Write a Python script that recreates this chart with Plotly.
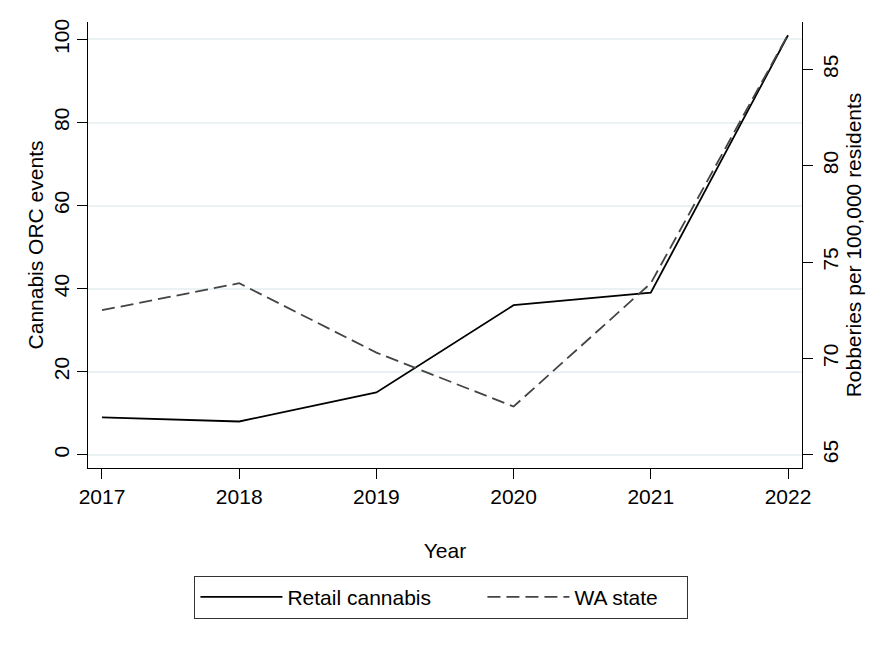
import plotly.graph_objects as go

years = [2017, 2018, 2019, 2020, 2021, 2022]
retail_cannabis = [9, 8, 15, 36, 39, 101]
wa_state = [72.5, 73.9, 70.3, 67.5, 73.9, 86.8]

left_ticks = [0, 20, 40, 60, 80, 100]
right_ticks = [65, 70, 75, 80, 85]

FONT = "Liberation Sans, Arial, sans-serif"
FS = 21

fig = go.Figure()
fig.add_trace(go.Scatter(
    x=years, y=retail_cannabis, mode="lines", name="Retail cannabis",
    line=dict(color="#000000", width=1.8), yaxis="y", legendwidth=190))
fig.add_trace(go.Scatter(
    x=years, y=wa_state, mode="lines", name="WA state",
    line=dict(color="#444444", width=1.8, dash="13px,6px"), yaxis="y2",
    legendwidth=108))

axis_common = dict(
    showline=True, linecolor="black", linewidth=1,
    ticks="outside", ticklen=10, tickwidth=1, tickcolor="black",
    tickfont=dict(family=FONT, size=FS, color="black"),
    zeroline=False, automargin=False,
)

fig.update_layout(
    width=891, height=648,
    paper_bgcolor="white", plot_bgcolor="white",
    margin=dict(l=80, r=97, t=14, b=188),
    font=dict(family=FONT, size=FS, color="black"),
    xaxis=dict(
        **axis_common, range=[2016.898, 2022.102], tickvals=years,
        showgrid=False,
        title=dict(text="Year", font=dict(family=FONT, size=FS), standoff=36),
    ),
    yaxis=dict(
        **axis_common, range=[-3.2, 104.2], tickvals=left_ticks, tickangle=-90,
        showgrid=True, gridcolor="#EAF2F3", gridwidth=1.5,
        title=dict(text="Cannabis ORC events", font=dict(family=FONT, size=FS), standoff=0),
    ),
    yaxis2=dict(
        **axis_common, range=[64.31, 87.46], tickvals=right_ticks, tickangle=-90,
        overlaying="y", side="right", showgrid=False,
        title=dict(text="Robberies per 100,000 residents", font=dict(family=FONT, size=FS), standoff=2),
    ),
    legend=dict(
        orientation="h", x=0.495, xanchor="center", y=-0.2415, yanchor="top",
        bordercolor="#333333", borderwidth=1, bgcolor="white",
        font=dict(family=FONT, size=FS, color="black"),
        itemwidth=82,
    ),
    showlegend=True,
)

fig.write_html("out.html")
